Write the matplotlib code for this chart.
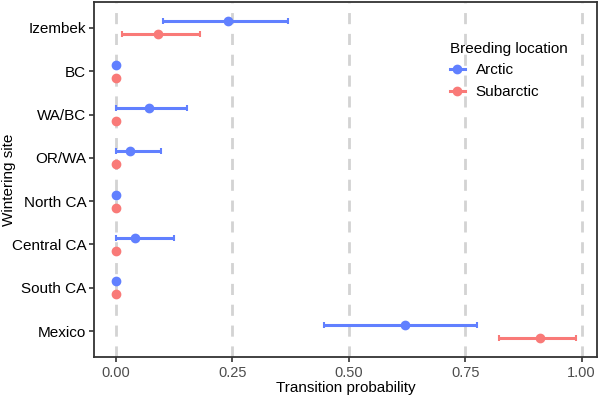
import matplotlib.pyplot as plt
from matplotlib.lines import Line2D
import numpy as np

plt.rcParams['font.family'] = ['Liberation Sans', 'DejaVu Sans']

# wintering sites, top to bottom
sites = ['Izembek', 'BC', 'WA/BC', 'OR/WA', 'North CA', 'Central CA', 'South CA', 'Mexico']

# Arctic breeders: estimate, lower, upper
arctic_est = [0.241, 0.0, 0.071, 0.031, 0.0, 0.040, 0.0, 0.620]
arctic_lo = [0.101, 0.0, 0.0, 0.0, 0.0, 0.0, 0.0, 0.447]
arctic_hi = [0.370, 0.0, 0.152, 0.096, 0.0, 0.125, 0.0, 0.775]

# Subarctic breeders
subarc_est = [0.090, 0.0, 0.0, 0.0, 0.0, 0.0, 0.0, 0.910]
subarc_lo = [0.013, 0.0, 0.0, 0.0, 0.0, 0.0, 0.0, 0.822]
subarc_hi = [0.181, 0.0, 0.0, 0.0, 0.0, 0.0, 0.0, 0.988]

blue = '#6180FF'
red = '#F97A78'

fig = plt.figure(figsize=(6.0, 3.95), dpi=100)
ax = fig.add_axes([94 / 600, 38 / 395, 503 / 600, 355 / 395])

y = np.arange(len(sites))[::-1].astype(float)
dodge = 0.15

handles = []
for est, lo, hi, col, off, lab in [
        (arctic_est, arctic_lo, arctic_hi, blue, dodge, 'Arctic'),
        (subarc_est, subarc_lo, subarc_hi, red, -dodge, 'Subarctic')]:
    est = np.array(est)
    err = np.vstack([est - np.array(lo), np.array(hi) - est])
    ax.errorbar(est, y + off, xerr=err, fmt='o', color=col, ms=6,
                elinewidth=2.2, capsize=2.5, capthick=1.5, zorder=3)
    handles.append(Line2D([], [], color=col, lw=2.2, marker='o', ms=6, label=lab))

for xv in [0, 0.25, 0.5, 0.75, 1.0]:
    ax.axvline(xv, color='#D3D3D3', lw=2, ls=(0, (4, 3.5)), zorder=1)

ax.set_xlim(-0.047, 1.033)
ax.set_ylim(-0.6, 7.6)
ax.set_yticks(y)
ax.set_yticklabels(sites, fontsize=11, color='black')
ax.set_xticks([0, 0.25, 0.5, 0.75, 1.0])
ax.set_xticklabels(['0.00', '0.25', '0.50', '0.75', '1.00'], fontsize=10.5, color='#4D4D4D')
ax.tick_params(length=3.5, width=1.2, color='#333333', pad=3)
ax.tick_params(axis='y', pad=2)
for s in ax.spines.values():
    s.set_color('#333333')
    s.set_linewidth(1.3)

ax.set_xlabel('Transition probability', fontsize=11)
ax.xaxis.set_label_coords(0.5, -0.068)
ax.set_ylabel('Wintering site', fontsize=11)
ax.yaxis.set_label_coords(-0.155, 0.5)

ax.legend(handles=handles, title='Breeding location', loc='upper left',
          bbox_to_anchor=(0.695, 0.905), frameon=False, fontsize=11,
          title_fontsize=11, handlelength=1.0, handletextpad=0.7,
          labelspacing=0.5, alignment='left', borderaxespad=0)

fig.savefig('out.png', dpi=100)
